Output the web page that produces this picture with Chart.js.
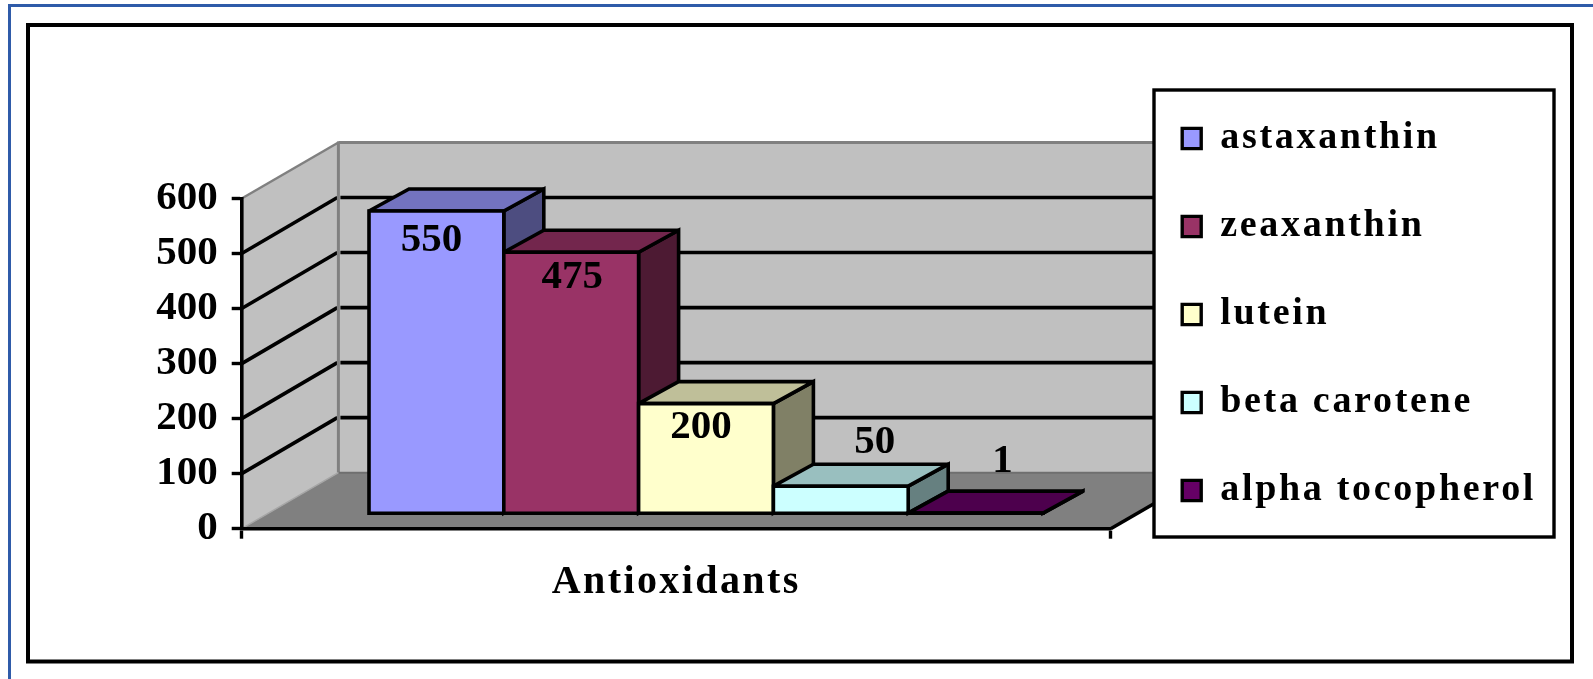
<!DOCTYPE html>
<html><head><meta charset="utf-8">
<style>html,body{margin:0;padding:0;background:#fff}canvas{display:block}</style>
<script src="https://cdn.jsdelivr.net/npm/chart.js@4/dist/chart.umd.min.js"></script>
</head><body>
<canvas id="c" width="1593" height="679"></canvas>
<script>
const categories = ['Antioxidants'];
const seriesNames = ['astaxanthin', 'zeaxanthin', 'lutein', 'beta carotene', 'alpha tocopherol'];
const astaxanthin = [550];
const zeaxanthin = [475];
const lutein = [200];
const betaCarotene = [50];
const alphaTocopherol = [1];
const seriesColors = ['#9999FF', '#993366', '#FFFFCC', '#CCFFFF', '#660066'];
const topColors = ['#7373BF', '#73264D', '#BFBF99', '#99BFBF', '#4D004D'];
const sideColors = ['#4D4D80', '#4D1A33', '#808066', '#668080', '#330033'];
const labelShift = [[-5, 29.5], [1, 25], [-5, 24], [34, -44], [27, -52]];

const FONT = '"Liberation Serif","Times New Roman",serif';
const wallDX = 96.7, wallDY = 56;       // depth of the walls
const barDX = 29.8, barDY = -15;        // bars stand part way into the floor
const faceDX = 40, faceDY = 22;         // depth of each bar
const INK = 3.6;                        // width of the black lines

function poly(ctx, pts, fill, stroke, lw) {
  ctx.beginPath();
  pts.forEach((p, i) => i ? ctx.lineTo(p[0], p[1]) : ctx.moveTo(p[0], p[1]));
  ctx.closePath();
  if (fill) { ctx.fillStyle = fill; ctx.fill(); }
  if (stroke) { ctx.strokeStyle = stroke; ctx.lineWidth = lw; ctx.lineJoin = 'miter'; ctx.miterLimit = 2; ctx.stroke(); }
}
function line(ctx, x1, y1, x2, y2, color, lw) {
  ctx.beginPath(); ctx.moveTo(x1, y1); ctx.lineTo(x2, y2);
  ctx.strokeStyle = color; ctx.lineWidth = lw; ctx.stroke();
}

const scene = {
  id: 'scene',
  beforeLayout(chart) {
    const lg = chart.legend;
    if (lg && !lg._patched) {
      lg._patched = true;
      const fit = lg.fit;
      lg.fit = function () { fit.call(this); this.width = 445.3; };
      const draw = lg.draw;
      lg.draw = function (a) {
        const ctx = this.ctx; ctx.save(); ctx.letterSpacing = '2.7px'; draw.call(this, a); ctx.restore();
      };
    }
  },
  afterLayout(chart) {
    const lg = chart.legend;
    lg.left = 1132.2; lg.right = 1552; lg.top = 69.5; lg.bottom = 670;
    const xs = chart.scales.x;
    if (!xs._patched) {
      xs._patched = true;
      const dl = xs.drawLabels;
      xs.drawLabels = function (a) {
        const ctx = this.ctx; ctx.save(); ctx.letterSpacing = '2.4px'; dl.call(this, a); ctx.restore();
      };
    }
  },
  beforeDraw(chart) {
    const ctx = chart.ctx, x = chart.scales.x, y = chart.scales.y;
    ctx.save();
    ctx.fillStyle = '#fff'; ctx.fillRect(0, 0, chart.width, chart.height);
    // page frames
    line(ctx, 9.5, 679, 9.5, 5.5, '#2F5BA9', 3);
    line(ctx, 8, 5.5, 1593, 5.5, '#2F5BA9', 3);
    ctx.strokeStyle = '#000'; ctx.lineWidth = 4; ctx.strokeRect(28, 25, 1544, 636.5);

    const L = x.left, R = x.right, y0 = y.getPixelForValue(0), yT = y.getPixelForValue(600);
    const bL = L + wallDX, bR = R + wallDX;
    // back wall
    poly(ctx, [[bL, yT - wallDY], [bR, yT - wallDY], [bR, y0 - wallDY], [bL, y0 - wallDY]], '#C0C0C0');
    // side wall
    poly(ctx, [[L, y0], [L, yT], [bL, yT - wallDY], [bL, y0 - wallDY]], '#C0C0C0');
    // floor
    poly(ctx, [[L, y0], [R, y0], [bR, y0 - wallDY], [bL, y0 - wallDY]], '#808080');
    // grid
    y.ticks.forEach(t => {
      const p = y.getPixelForValue(t.value);
      if (t.value > 0 && t.value < 600) {
        line(ctx, L, p, bL - 1, p - wallDY, '#000', INK);
        line(ctx, bL + 2, p - wallDY, bR, p - wallDY, '#000', INK);
      }
    });
    // wall edges
    line(ctx, L, yT, bL, yT - wallDY, '#808080', 2.5);
    line(ctx, bL, yT - wallDY, bR, yT - wallDY, '#808080', 3);
    line(ctx, bL, yT - wallDY - 1, bL, y0 - wallDY, '#808080', 3);
    line(ctx, bL, y0 - wallDY, bR, y0 - wallDY, '#6f6f6f', 2);
    line(ctx, L, y0, bL, y0 - wallDY, '#A6A6A6', 1.5);
    line(ctx, R, y0, bR, y0 - wallDY, '#000', INK);
    // legend panel
    ctx.fillStyle = '#fff'; ctx.fillRect(1154, 90, 400, 447);
    ctx.strokeStyle = '#000'; ctx.lineWidth = 3.4; ctx.strokeRect(1154, 90, 400, 447);
    ctx.restore();
  },
  // Bars are drawn first-to-last so each one overlaps the depth faces of the previous one.
  beforeDatasetsDraw(chart) {
    const ctx = chart.ctx;
    ctx.save();
    ctx.translate(barDX, barDY);
    chart.data.datasets.forEach((d, i) => {
      const meta = chart.getDatasetMeta(i), b = meta.data[0];
      const l = b.x - b.width / 2, r = b.x + b.width / 2, t = b.y, bt = b.base;
      poly(ctx, [[r, t], [r + faceDX, t - faceDY], [r + faceDX, bt - faceDY], [r, bt]], sideColors[i], '#000', INK);
      poly(ctx, [[l, t], [r, t], [r + faceDX, t - faceDY], [l + faceDX, t - faceDY]], topColors[i], '#000', INK);
      meta.controller.draw();
      poly(ctx, [[l, t], [r, t], [r, bt], [l, bt]], null, '#000', INK);
    });
    ctx.font = 'bold 41px ' + FONT;
    ctx.fillStyle = '#000'; ctx.textAlign = 'center'; ctx.textBaseline = 'middle';
    chart.data.datasets.forEach((d, i) => {
      const b = chart.getDatasetMeta(i).data[0];
      ctx.fillText(String(d.data[0]), b.x + labelShift[i][0], b.y + labelShift[i][1]);
    });
    ctx.restore();
    return false;
  }
};

new Chart(document.getElementById('c'), {
  type: 'bar',
  plugins: [scene],
  data: {
    labels: categories,
    datasets: [astaxanthin, zeaxanthin, lutein, betaCarotene, alphaTocopherol].map((v, i) => ({
      label: seriesNames[i], data: v, backgroundColor: seriesColors[i],
      borderWidth: 0, clip: false,
      categoryPercentage: 0.7756, barPercentage: 1
    }))
  },
  options: {
    responsive: false, animation: false,
    layout: { padding: { left: 0, top: 198.5, right: 37, bottom: 0 } },
    plugins: {
      tooltip: { enabled: false },
      legend: {
        position: 'right', align: 'start',
        labels: {
          color: '#000', boxWidth: 19, boxHeight: 20.3, padding: 50,
          font: { family: FONT, weight: 'bold', size: 38 },
          generateLabels(chart) {
            return Chart.defaults.plugins.legend.labels.generateLabels(chart)
              .map(o => Object.assign(o, { lineWidth: 3.4, strokeStyle: '#000' }));
          }
        }
      }
    },
    scales: {
      x: {
        afterFit(s) { s.height = 150.3; s.paddingLeft = 0; s.paddingRight = 0; },
        grid: { drawOnChartArea: false, tickLength: 10, tickColor: '#000', tickWidth: 3.4 },
        border: { display: true, color: '#000', width: 3.6 },
        ticks: { color: '#000', padding: 20, maxRotation: 0, font: { family: FONT, weight: 'bold', size: 40 } }
      },
      y: {
        min: 0, max: 600,
        afterFit(s) { s.width = 241.7; s.paddingTop = 0; s.paddingBottom = 0; },
        grid: { drawOnChartArea: false, tickLength: 10, tickColor: '#000', tickWidth: 3.4 },
        border: { display: true, color: '#000', width: 3.6 },
        ticks: { color: '#000', stepSize: 100, padding: 14, font: { family: FONT, weight: 'bold', size: 41 } }
      }
    }
  }
});
</script>
</body></html>
